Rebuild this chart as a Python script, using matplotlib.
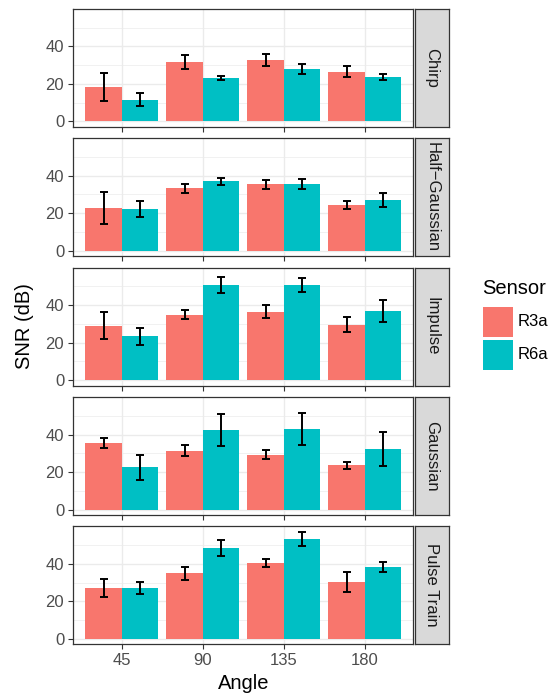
import numpy as np
import matplotlib
matplotlib.use("Agg")
import matplotlib.pyplot as plt
from matplotlib.patches import Rectangle

plt.rcParams['font.family'] = ['Liberation Sans', 'DejaVu Sans']

angles = ["45", "90", "135", "180"]
signals = ["Chirp", "Half\u2212Gaussian", "Impulse", "Gaussian", "Pulse Train"]
sensors = ["R3a", "R6a"]
colors = ["#F8766D", "#00BFC4"]

# mean SNR per signal, rows = angle 45/90/135/180
r3a_mean = {
    "Chirp":        [18.4, 31.7, 32.7, 26.4],
    "Half\u2212Gaussian": [22.7, 33.3, 35.4, 24.3],
    "Impulse":      [29.1, 34.9, 36.5, 29.6],
    "Gaussian":     [35.6, 31.4, 29.3, 23.5],
    "Pulse Train":  [27.3, 35.1, 40.4, 30.4],
}
r3a_err = {
    "Chirp":        [7.5, 3.8, 3.2, 3.0],
    "Half\u2212Gaussian": [8.5, 2.5, 2.5, 2.1],
    "Impulse":      [7.1, 2.3, 3.4, 3.9],
    "Gaussian":     [2.7, 3.1, 2.3, 1.9],
    "Pulse Train":  [4.9, 3.5, 2.2, 5.5],
}
r6a_mean = {
    "Chirp":        [11.5, 23.2, 28.0, 23.7],
    "Half\u2212Gaussian": [22.2, 37.0, 35.4, 27.0],
    "Impulse":      [23.3, 50.7, 50.7, 37.0],
    "Gaussian":     [22.5, 42.5, 43.0, 32.5],
    "Pulse Train":  [27.3, 48.7, 53.5, 38.3],
}
r6a_err = {
    "Chirp":        [3.4, 1.2, 2.7, 1.8],
    "Half\u2212Gaussian": [4.2, 1.8, 2.7, 3.6],
    "Impulse":      [4.4, 4.1, 3.5, 5.8],
    "Gaussian":     [6.8, 8.5, 8.7, 9.1],
    "Pulse Train":  [3.2, 4.3, 3.7, 2.7],
}

W, H = 558, 697
fig = plt.figure(figsize=(W / 100, H / 100), dpi=100)

def px_box(left, top, width, height):
    return [left / W, 1 - (top + height) / H, width / W, height / H]

# shared y scale over all facets (ggplot-style 5% expansion)
ymax = max(max(np.array(r3a_mean[s]) + np.array(r3a_err[s])) for s in signals)
ymax = max(ymax, max(max(np.array(r6a_mean[s]) + np.array(r6a_err[s])) for s in signals))
pad = 0.05 * ymax
ylim = (-pad, ymax + pad)

x = np.arange(1, len(angles) + 1)
bw = 0.45
panel_left, panel_w = 73.3, 340.0
panel_top0, panel_h, gap = 8.7, 118.0, 11.4

for k, sig in enumerate(signals):
    top = panel_top0 + k * (panel_h + gap)
    ax = fig.add_axes(px_box(panel_left, top, panel_w, panel_h))
    ax.set_axisbelow(True)
    for j, (mean, err) in enumerate([(r3a_mean, r3a_err), (r6a_mean, r6a_err)]):
        xs = x + (j - 0.5) * bw
        ax.bar(xs, mean[sig], width=bw, color=colors[j], linewidth=0)
        ax.errorbar(xs, mean[sig], yerr=err[sig], fmt="none", ecolor="black",
                    elinewidth=1.4, capsize=3.0, capthick=1.4)
    ax.set_xlim(0.4, 4.6)
    ax.set_ylim(*ylim)
    ax.set_xticks(x)
    ax.set_yticks([0, 20, 40])
    ax.set_yticks([10, 30, 50], minor=True)
    ax.grid(which="major", color="#EBEBEB", linewidth=1.0)
    ax.grid(which="minor", axis="y", color="#EBEBEB", linewidth=0.5)
    ax.tick_params(which="minor", length=0)
    ax.tick_params(which="major", length=3.6, width=0.8, color="#333333",
                   labelcolor="#4D4D4D", labelsize=12, pad=3)
    for sp in ax.spines.values():
        sp.set_color("#333333")
        sp.set_linewidth(0.9)
    if k < len(signals) - 1:
        ax.set_xticklabels([])
    else:
        ax.set_xticklabels(angles)
        ax.set_xlabel("Angle", fontsize=14.5, color="black", labelpad=4)

    # facet strip on the right
    sax = fig.add_axes(px_box(414.8, top, 34.0, panel_h))
    sax.set_facecolor("#D9D9D9")
    sax.set_xticks([])
    sax.set_yticks([])
    for sp in sax.spines.values():
        sp.set_color("#333333")
        sp.set_linewidth(0.9)
    sax.text(0.5, 0.5, sig, rotation=-90, ha="center", va="center",
             fontsize=12, color="#1A1A1A", transform=sax.transAxes)

fig.text(24 / W, 1 - 326 / H, "SNR (dB)", rotation=90, ha="center", va="center",
         fontsize=14.5)

# legend
fig.text(482 / W, 1 - 289 / H, "Sensor", ha="left", va="center", fontsize=14.5)
for j, name in enumerate(sensors):
    ktop = 307 + j * 33
    fig.patches.append(Rectangle((483 / W, 1 - (ktop + 30) / H), 30 / W, 30 / H,
                                 transform=fig.transFigure, color=colors[j],
                                 linewidth=0))
    fig.text(518 / W, 1 - (ktop + 15) / H, name, ha="left", va="center",
             fontsize=12)

fig.savefig("out.png", dpi=100)
